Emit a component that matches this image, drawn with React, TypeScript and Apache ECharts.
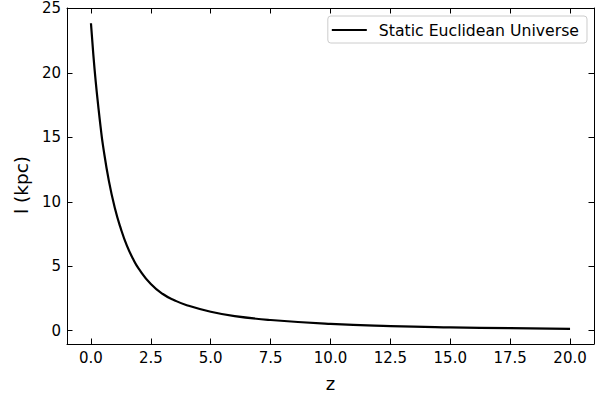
import React, { useEffect, useRef } from "react";
import * as echarts from "echarts";

const seriesName = "Static Euclidean Universe";
const zValues = [0, 0.1, 0.2, 0.3, 0.4, 0.5, 0.75, 1.0, 1.25, 1.5, 1.75, 2.0, 2.5, 3.0, 3.5, 4.0, 5.0, 6.0, 7.5, 10, 12.5, 15, 17.5, 20];
const lValues = [23.85, 21.4, 19.3, 17.5, 15.85, 14.4, 11.6, 9.5, 7.9, 6.6, 5.6, 4.8, 3.62, 2.85, 2.35, 1.98, 1.47, 1.13, 0.83, 0.53, 0.36, 0.26, 0.2, 0.15];
const xTicks = [0, 2.5, 5, 7.5, 10, 12.5, 15, 17.5, 20];
const yTicks = [0, 5, 10, 15, 20, 25];
const xLabel = "z";
const yLabel = "l (kpc)";

const FONT = "DejaVu Sans";

export default function App() {
  const ref = useRef<HTMLDivElement>(null);
  useEffect(() => {
    if (!ref.current) return;
    const chart = echarts.init(ref.current, undefined, { renderer: "svg" });
    const axisLineStyle = { color: "#000", width: 1 };
    const tickBase = { show: true, inside: true, length: 5.5, lineStyle: { color: "#000", width: 1 } };
    chart.setOption({
      animation: false,
      backgroundColor: "#fff",
      textStyle: { fontFamily: FONT },
      grid: { left: 67, right: 12, top: 8, bottom: 46, containLabel: false },
      legend: {
        show: true,
        right: 19,
        top: 16,
        padding: [6, 8, 5, 4],
        itemWidth: 35,
        itemHeight: 2.2,
        borderColor: "#cccccc",
        borderWidth: 1,
        borderRadius: 3,
        backgroundColor: "rgba(255,255,255,0.8)",
        textStyle: { fontFamily: FONT, fontSize: 15.7, color: "#000", padding: [0, 0, 0, 7] },
        data: [{ name: seriesName, icon: "rect", itemStyle: { color: "#000" } }],
      },
      xAxis: [
        {
          type: "value",
          min: -1,
          max: 21,
          position: "bottom",
          name: xLabel,
          nameLocation: "middle",
          nameGap: 30,
          nameTextStyle: { fontFamily: FONT, fontSize: 18, color: "#000" },
          axisLine: { show: true, onZero: false, lineStyle: axisLineStyle },
          axisTick: { ...tickBase, customValues: xTicks },
          axisLabel: {
            show: true,
            customValues: xTicks,
            margin: 6,
            fontFamily: FONT,
            fontSize: 15,
            color: "#000",
            formatter: (v: number) => v.toFixed(1),
          },
          splitLine: { show: false },
        },
        {
          type: "value",
          min: -1,
          max: 21,
          position: "top",
          axisLine: { show: true, onZero: false, lineStyle: axisLineStyle },
          axisTick: { ...tickBase, customValues: xTicks },
          axisLabel: { show: false },
          splitLine: { show: false },
        },
      ],
      yAxis: [
        {
          type: "value",
          min: -1.03,
          max: 25.03,
          position: "left",
          name: yLabel,
          nameLocation: "middle",
          nameGap: 31,
          nameRotate: 90,
          nameTextStyle: { fontFamily: FONT, fontSize: 18.5, color: "#000", padding: [0, 18, 0, 0] },
          axisLine: { show: true, onZero: false, lineStyle: axisLineStyle },
          axisTick: { ...tickBase, customValues: yTicks },
          axisLabel: {
            show: true,
            customValues: yTicks,
            margin: 6,
            fontFamily: FONT,
            fontSize: 15,
            color: "#000",
            formatter: (v: number) => String(Math.round(v)),
          },
          splitLine: { show: false },
        },
        {
          type: "value",
          min: -1.03,
          max: 25.03,
          position: "right",
          axisLine: { show: true, onZero: false, lineStyle: axisLineStyle },
          axisTick: { ...tickBase, customValues: yTicks },
          axisLabel: { show: false },
          splitLine: { show: false },
        },
      ],
      series: [
        {
          name: seriesName,
          type: "line",
          xAxisIndex: 0,
          yAxisIndex: 0,
          data: zValues.map((z, i) => [z, lValues[i]]),
          symbol: "none",
          showSymbol: false,
          smooth: 0.5,
          lineStyle: { color: "#000", width: 2.2 },
          itemStyle: { color: "#000" },
        },
      ],
    });
    return () => chart.dispose();
  }, []);
  return (
    <div
      ref={ref}
      style={{ position: "fixed", left: 0, top: 0, width: 606, height: 397, background: "#fff" }}
    />
  );
}
